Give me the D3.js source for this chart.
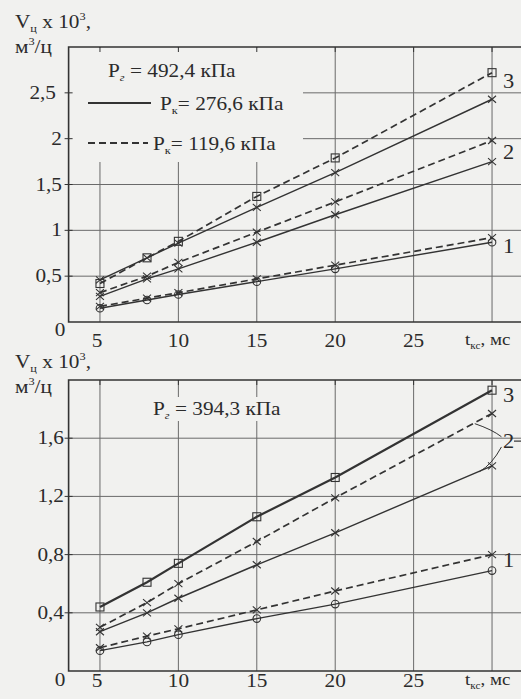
<!DOCTYPE html>
<html>
<head>
<meta charset="utf-8">
<script src="https://cdn.jsdelivr.net/npm/d3@7"></script>
<style>
  html, body { margin: 0; padding: 0; background: #f1f1ef; }
  svg { display: block; }
</style>
</head>
<body>
<svg id="chart" width="521" height="699"></svg>
<script>
// ---------- data ----------
const X_POINTS = [5, 8, 10, 15, 20, 30];
const X_TICKS = [5, 10, 15, 20, 25];
const X_GRID = [5, 10, 15, 20, 25, 30];

const TOP_Y_TICKS = [0, 0.5, 1, 1.5, 2, 2.5];
const TOP_SOLID_3  = [0.46, 0.70, 0.86, 1.25, 1.63, 2.43];
const TOP_DASHED_3 = [0.42, 0.70, 0.88, 1.37, 1.79, 2.72];
const TOP_SOLID_2  = [0.28, 0.47, 0.58, 0.87, 1.17, 1.75];
const TOP_DASHED_2 = [0.32, 0.50, 0.65, 0.98, 1.31, 1.98];
const TOP_SOLID_1  = [0.15, 0.24, 0.30, 0.44, 0.58, 0.87];
const TOP_DASHED_1 = [0.17, 0.26, 0.32, 0.47, 0.62, 0.92];

const BOT_Y_TICKS = [0, 0.4, 0.8, 1.2, 1.6];
const BOT_SOLID_3  = [0.44, 0.61, 0.74, 1.06, 1.33, 1.93];
const BOT_SOLID_2  = [0.27, 0.40, 0.50, 0.73, 0.95, 1.41];
const BOT_DASHED_2 = [0.30, 0.47, 0.60, 0.89, 1.19, 1.77];
const BOT_SOLID_1  = [0.14, 0.20, 0.25, 0.36, 0.46, 0.69];
const BOT_DASHED_1 = [0.16, 0.24, 0.29, 0.42, 0.55, 0.80];

const TOP_PG = "492,4 кПа";
const BOT_PG = "394,3 кПа";
const LEGEND_SOLID = "276,6 кПа";
const LEGEND_DASHED = "119,6 кПа";
const CURVE_LABELS = ["1", "2", "3"];

// ---------- drawing ----------
const FONT = "'Liberation Serif', 'Times New Roman', Times, 'DejaVu Serif', serif";
const svg = d3.select("#chart");
const INK = "#333";
const GRID = "#6a6a6a";
const BG = "#f1f1ef";
const SX = 1.12;

svg.append("rect").attr("width", 521).attr("height", 699).attr("fill", BG);

function txt(g, x, y, size, anchor) {
  return g.append("text")
    .attr("transform", `translate(${x},${y}) scale(${SX},1)`)
    .attr("font-family", FONT)
    .attr("fill", "#2b2b2b")
    .attr("font-size", size)
    .attr("text-anchor", anchor || "start");
}
function fmt(v) { return String(v).replace(".", ","); }

function drawChart(cfg) {
  const g = svg.append("g");
  const x = d3.scaleLinear().domain([3, 32]).range([68.6, 523.4]);
  const y = d3.scaleLinear().domain([0, cfg.yMax]).range([cfg.bottom, cfg.top]);
  const left = x(3), right = 521;

  // gridlines
  const grid = g.append("g").attr("stroke", GRID).attr("stroke-width", 1);
  grid.selectAll("line.v").data(X_GRID).join("line")
    .attr("x1", d => x(d)).attr("x2", d => x(d))
    .attr("y1", y(cfg.yMax)).attr("y2", y(0));
  grid.selectAll("line.h").data(cfg.yTicks.filter(d => d > 0)).join("line")
    .attr("x1", left).attr("x2", right)
    .attr("y1", d => y(d)).attr("y2", d => y(d));

  // legend box (masks grid)
  g.append("rect").attr("x", cfg.box[0]).attr("y", cfg.box[1])
    .attr("width", cfg.box[2]).attr("height", cfg.box[3]).attr("fill", BG);

  // small ticks on frame
  const ticks = g.append("g").attr("stroke", INK).attr("stroke-width", 1);
  ticks.selectAll("line.t").data(X_GRID).join("line")
    .attr("x1", d => x(d)).attr("x2", d => x(d))
    .attr("y1", y(cfg.yMax)).attr("y2", y(cfg.yMax) + 5);
  ticks.selectAll("line.l").data(cfg.yTicks.filter(d => d > 0)).join("line")
    .attr("x1", left - 4).attr("x2", left + 4)
    .attr("y1", d => y(d)).attr("y2", d => y(d));

  // frame
  g.append("path")
    .attr("d", `M${right},${y(cfg.yMax)}H${left}V${y(0)}H${right}`)
    .attr("fill", "none").attr("stroke", INK).attr("stroke-width", 1.6);

  // series
  const line = d3.line().x((d, i) => x(X_POINTS[i])).y(d => y(d));
  cfg.series.forEach(s => {
    g.append("path").datum(s.values).attr("d", line)
      .attr("fill", "none").attr("stroke", INK)
      .attr("stroke-width", s.width || (s.dashed ? 1.7 : 1.4))
      .attr("stroke-dasharray", s.dashed ? "7,4" : null);
    const mk = g.append("g").attr("stroke", INK).attr("stroke-width", 1.1).attr("fill", "none");
    s.values.forEach((v, i) => {
      const px = x(X_POINTS[i]), py = y(v);
      if (s.marker === "square") {
        mk.append("rect").attr("x", px - 4).attr("y", py - 4).attr("width", 8).attr("height", 8);
      } else if (s.marker === "circle") {
        mk.append("circle").attr("cx", px).attr("cy", py).attr("r", 3.8);
      } else if (s.marker === "cross") {
        mk.append("path").attr("d", `M${px-4},${py-3.5}L${px+4},${py+3.5}M${px-4},${py+3.5}L${px+4},${py-3.5}`);
      }
    });
  });

  // leaders
  (cfg.leaders || []).forEach(L => {
    g.append("path")
      .attr("d", `M${x(L[0])},${y(L[1])}Q${x(L[2])},${y(L[3])} ${x(L[4])},${y(L[5])}`)
      .attr("fill", "none").attr("stroke", INK).attr("stroke-width", 1);
  });

  // curve labels
  cfg.curveLabels.forEach((c, i) => {
    txt(g, 503, y(c) + 7, 20).text(CURVE_LABELS[i]);
  });

  // y tick labels
  cfg.yTicks.forEach(v => {
    if (v === 0) txt(g, 60, cfg.zeroBaseline, 19, "middle").text("0");
    else txt(g, cfg.yLabelX(v), y(v) + 6, 19, "end").text(fmt(v));
  });
  // x tick labels
  X_TICKS.forEach(v => {
    txt(g, x(v) - (v === 5 ? 3 : 0), cfg.xBaseline, 19, "middle").text(v);
  });
  const tl = txt(g, 465, cfg.xBaseline - 2, 17);
  tl.append("tspan").text("t");
  tl.append("tspan").attr("font-size", 10).attr("dy", 4).text("кс");
  tl.append("tspan").attr("dy", -4).text(", мс");

  // axis title
  const t1 = txt(g, 15, cfg.titleY, 19);
  t1.append("tspan").text("V");
  t1.append("tspan").attr("font-size", 11).attr("dy", 4).text("ц");
  t1.append("tspan").attr("dy", -4).text(" x 10");
  t1.append("tspan").attr("font-size", 11).attr("dy", -8).text("3");
  t1.append("tspan").attr("dy", 8).text(",");
  const t2 = txt(g, 15, cfg.titleY + 25, 19);
  t2.append("tspan").text("м");
  t2.append("tspan").attr("font-size", 11).attr("dy", -8).text("3");
  t2.append("tspan").attr("dy", 8).text("/ц");

  // Pг label
  const pg = txt(g, cfg.pg[0], cfg.pg[1], 19);
  pg.append("tspan").text("P");
  pg.append("tspan").attr("font-size", 11).attr("dy", 4).attr("font-style", "italic").text("г");
  pg.append("tspan").attr("dy", -4).text(" = " + cfg.pgText);

  return { g, x, y };
}

const topChart = drawChart({
  top: 47, bottom: 322, yMax: 3, yTicks: TOP_Y_TICKS,
  box: [69, 48, 234, 114],
  yLabelX: v => v === 2.5 ? 56 : 62,
  zeroBaseline: 336, xBaseline: 347, titleY: 28,
  pg: [108, 77], pgText: TOP_PG,
  series: [
    { values: TOP_SOLID_3, dashed: false, marker: "cross" },
    { values: TOP_DASHED_3, dashed: true, marker: "square" },
    { values: TOP_SOLID_2, dashed: false, marker: "cross" },
    { values: TOP_DASHED_2, dashed: true, marker: "cross" },
    { values: TOP_SOLID_1, dashed: false, marker: "circle" },
    { values: TOP_DASHED_1, dashed: true, marker: "cross" }
  ],
  curveLabels: [0.83, 1.85, 2.63]
});

// legend for top chart
(function () {
  const g = topChart.g;
  g.append("line").attr("x1", 88).attr("x2", 151).attr("y1", 103).attr("y2", 103)
    .attr("stroke", INK).attr("stroke-width", 1.8);
  g.append("line").attr("x1", 88).attr("x2", 148).attr("y1", 143).attr("y2", 143)
    .attr("stroke", INK).attr("stroke-width", 1.8).attr("stroke-dasharray", "7,4");
  [[160, 110, LEGEND_SOLID], [153, 150, LEGEND_DASHED]].forEach(d => {
    const t = txt(g, d[0], d[1], 19);
    t.append("tspan").text("P");
    t.append("tspan").attr("font-size", 11).attr("dy", 4).text("к");
    t.append("tspan").attr("dy", -4).text("= " + d[2]);
  });
})();

const botChart = drawChart({
  top: 380, bottom: 671, yMax: 2, yTicks: BOT_Y_TICKS,
  box: [150, 397, 133, 24],
  yLabelX: () => 64,
  zeroBaseline: 686, xBaseline: 687, titleY: 368,
  pg: [153, 415], pgText: BOT_PG,
  series: [
    { values: BOT_SOLID_3, dashed: false, marker: "square", width: 2.2 },
    { values: BOT_SOLID_2, dashed: false, marker: "cross" },
    { values: BOT_DASHED_2, dashed: true, marker: "cross" },
    { values: BOT_SOLID_1, dashed: false, marker: "circle" },
    { values: BOT_DASHED_1, dashed: true, marker: "cross" }
  ],
  leaders: [
    [28.9, 1.70, 30.0, 1.66, 30.6, 1.61],
    [30.6, 1.54, 30.0, 1.42, 29.2, 1.37]
  ],
  curveLabels: [0.76, 1.58, 1.90]
});
// dash after label 2
botChart.g.append("line").attr("x1", 514).attr("x2", 521)
  .attr("y1", botChart.y(1.58)).attr("y2", botChart.y(1.58))
  .attr("stroke", INK).attr("stroke-width", 1.2);
</script>
</body>
</html>
